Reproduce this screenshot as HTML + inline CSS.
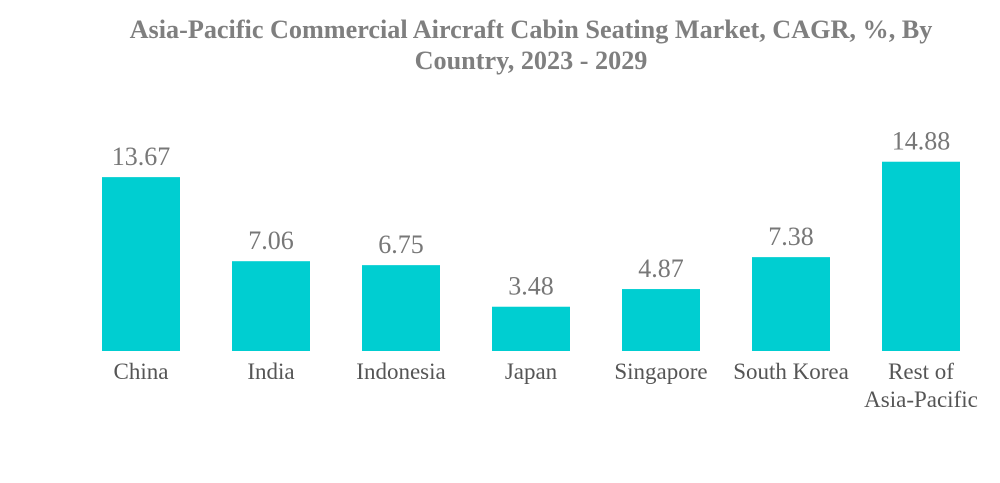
<!DOCTYPE html>
<html><head><meta charset="utf-8"><style>
body{margin:0;background:#fff;}
svg{display:block;font-family:"Liberation Serif",serif;}
</style></head><body>
<svg id="chart" width="1000" height="483" viewBox="0 0 1000 483">
<text x="531" y="38" text-anchor="middle" font-size="26.2" font-weight="bold" fill="#7f7f7f">Asia-Pacific Commercial Aircraft Cabin Seating Market, CAGR, %, By<tspan x="531" y="69">Country, 2023 - 2029</tspan></text>
<g id="bars"></g>
</svg>
<script>
const categories = ["China","India","Indonesia","Japan","Singapore","South Korea","Rest of|Asia-Pacific"];
const values = [13.67,7.06,6.75,3.48,4.87,7.38,14.88];
const labels = ["13.67","7.06","6.75","3.48","4.87","7.38","14.88"];
const ns="http://www.w3.org/2000/svg";
const g=document.getElementById('bars');
const baseY=351, scale=12.72, x0=141, step=130, bw=78;
function xPos(i){return x0+i*step;}
function yPos(v){return baseY-v*scale;}
categories.forEach((c,i)=>{
  const cx=xPos(i), y=yPos(values[i]);
  const r=document.createElementNS(ns,'rect');
  r.setAttribute('x',cx-bw/2);r.setAttribute('y',y);r.setAttribute('width',bw);r.setAttribute('height',baseY-y);r.setAttribute('fill','#00ced1');
  
  
  g.appendChild(r);
  const t=document.createElementNS(ns,'text');
  t.setAttribute('x',cx);t.setAttribute('y',y-12);t.setAttribute('text-anchor','middle');t.setAttribute('font-size','26');t.setAttribute('fill','#777');
  t.textContent=labels[i];
  
  
  g.appendChild(t);
  const parts=c.split('|');
  parts.forEach((p,j)=>{
    const l=document.createElementNS(ns,'text');
    l.setAttribute('x',cx);l.setAttribute('y',379+j*28);l.setAttribute('text-anchor','middle');l.setAttribute('font-size','23');l.setAttribute('fill','#555');
    l.textContent=p;
    
    
    g.appendChild(l);
  });
});
</script>
</body></html>
